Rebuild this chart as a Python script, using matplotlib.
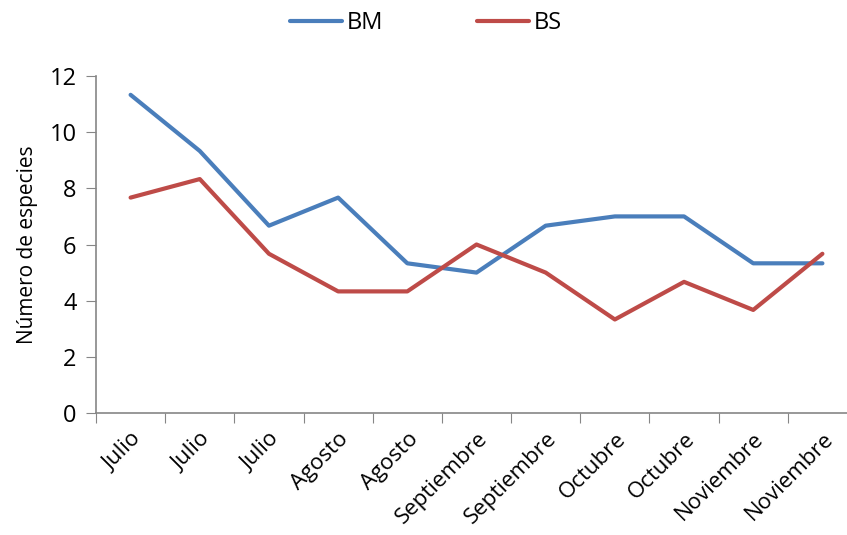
import matplotlib
matplotlib.use("Agg")
import matplotlib.pyplot as plt

# species counts per sampling date
meses = ["Julio", "Julio", "Julio", "Agosto", "Agosto", "Septiembre",
         "Septiembre", "Octubre", "Octubre", "Noviembre", "Noviembre"]
bm = [11.33, 9.33, 6.67, 7.67, 5.33, 5.0, 6.67, 7.0, 7.0, 5.33, 5.33]
bs = [7.67, 8.33, 5.67, 4.33, 4.33, 6.0, 5.0, 3.33, 4.67, 3.67, 5.67]

plt.rcParams['font.family'] = ['Open Sans', 'DejaVu Sans']
grey = '#868686'

fig = plt.figure(figsize=(8.47, 5.35), dpi=100)
# plot area runs slightly past the right edge of the canvas
ax = fig.add_axes([96/847, 1-413/535, (857-96)/847, (413-76)/535])

x = range(len(meses))
ax.plot(x, bm, color='#4A7EBB', lw=3, label='BM', solid_capstyle='round')
ax.plot(x, bs, color='#BE4B48', lw=3, label='BS', solid_capstyle='round')

ax.set_xlim(-0.5, len(meses) - 0.5)
ax.set_ylim(0, 12)
ax.set_yticks(range(0, 13, 2))
ax.set_xticks([i - 0.5 for i in range(len(meses) + 1)], minor=False)
ax.set_xticklabels([])
ax.set_xticks(list(x), minor=True)
ax.set_xticklabels(meses, minor=True, rotation=45, ha='right',
                   va='top', rotation_mode='anchor', fontsize=16)
ax.tick_params(axis='x', which='minor', length=0, pad=11)
ax.tick_params(axis='x', which='major', length=7, color=grey, direction='out')
ax.tick_params(axis='y', length=7, color=grey, direction='out', labelsize=17, pad=7)

for s in ['top', 'right']:
    ax.spines[s].set_visible(False)
for s in ['left', 'bottom']:
    ax.spines[s].set_color(grey)
    ax.spines[s].set_linewidth(1.2)

ax.set_ylabel('Número de especies', fontsize=15, labelpad=8)

fig.legend(loc='center', bbox_to_anchor=(0.503, 1-23/535), ncol=2, frameon=False,
           fontsize=17, handlelength=2.2, columnspacing=4.0, handletextpad=0.2)

fig.savefig('out.png', dpi=100)
